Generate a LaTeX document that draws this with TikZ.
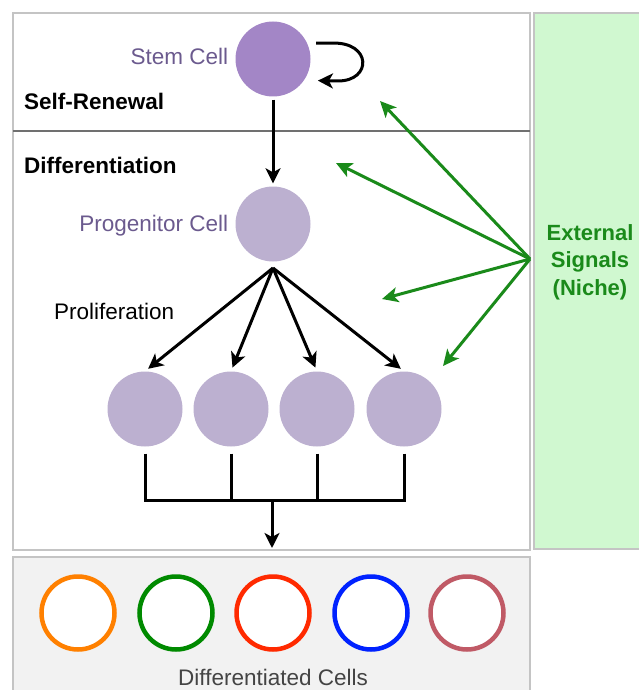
\documentclass[tikz,border=0pt]{standalone}
\usepackage{fontspec}
\setmainfont{Liberation Sans}
\usetikzlibrary{positioning,arrows.meta}
\definecolor{stemcol}{HTML}{A386C6}
\definecolor{progcol}{HTML}{BCB0D0}
\definecolor{labcol}{HTML}{6B5A8E}
\definecolor{nichecol}{HTML}{1A8A1A}
\definecolor{nichefill}{HTML}{D0F8D0}
\definecolor{boxline}{HTML}{C4C4C4}
\definecolor{sepline}{HTML}{707070}
\definecolor{difffill}{HTML}{F2F2F2}
\definecolor{difftext}{HTML}{444444}
\definecolor{ringorange}{HTML}{FF8000}
\definecolor{ringgreen}{HTML}{008A00}
\definecolor{ringred}{HTML}{FF2A00}
\definecolor{ringblue}{HTML}{0022FF}
\definecolor{ringrose}{HTML}{C05A66}

\begin{document}
\begin{tikzpicture}[x=1pt,y=-1pt,
  font=\fontsize{22.5}{27}\selectfont,
  cell/.style={circle,minimum size=75pt,inner sep=0pt},
  ring/.style={circle,minimum size=73pt,inner sep=0pt,line width=4.5pt,fill=white},
  lab/.style={inner sep=0pt},
  arr/.style={-{Stealth[length=15pt,width=15pt,inset=4pt]},line width=3pt},
  sig/.style={-{Stealth[length=16pt,width=15pt,inset=4pt]},nichecol,line width=3pt}]

\useasboundingbox (0,0) rectangle (638,690);

% Boxes
\draw[boxline,line width=2pt] (13,13) rectangle (530,550);
\draw[boxline,line width=2pt,fill=nichefill] (534,13) rectangle (645,549);
\draw[boxline,line width=2pt,fill=difffill] (13,557) rectangle (530,700);
\draw[sepline,line width=1.5pt] (13,131) -- (530,131);

% Stem cell and progenitor
\node[cell,fill=stemcol] (stem) at (273,59) {};
\node[cell,fill=progcol] (prog) at (273,224) {};
\node[lab,labcol,left=7pt of stem,yshift=3pt] (stemlab) {Stem Cell};
\node[lab,labcol,left=7pt of prog,yshift=-2pt] (proglab) {Progenitor Cell};

\node[lab,anchor=west] (renew) at (24,101) {\bfseries Self-Renewal};
\node[lab,anchor=west] (differ) at (24,165) {\bfseries Differentiation};
\node[lab,anchor=west] (prolif) at (54,311) {Proliferation};

% Self-renewal loop
\draw[arr] ([xshift=9pt]stem.25) -- ++(16,0) .. controls (372,42) and (372,81) .. (338,81) -- ([xshift=14pt]stem.-35);
\draw[arr,shorten <=3pt,shorten >=3pt] (stem) -- (prog);

% Daughter cells
\coordinate (fan) at (273,268);
\foreach \x [count=\i] in {145,231,317,404}
  \node[cell,fill=progcol] (d\i) at (\x,409) {};
\foreach \i in {1,...,4}
  \draw[arr,shorten >=4pt] (fan) -- (d\i.north);

% Bracket down to differentiated cells
\coordinate (join) at (272,500);
\coordinate (out) at (272,548);
\foreach \i in {1,...,4}
  \draw[line width=3pt] ([yshift=-7pt]d\i.south) |- (join);
\draw[arr] (join) -- (out);

% External signals
\coordinate (niche) at (530,259);
\node[lab,nichecol,align=center,font=\fontsize{22}{27.5}\selectfont\bfseries] (nichelab) at (590,262) {External\\Signals\\(Niche)};
\foreach \x/\y [count=\i] in {380/101,336/163,382/299,443/366}
  \coordinate (t\i) at (\x,\y);
\foreach \i in {1,...,4}
  \draw[sig] (niche) -- (t\i);

% Differentiated cells
\foreach \x/\c [count=\i] in {78/ringorange,176/ringgreen,273/ringred,371/ringblue,467/ringrose}
  \node[ring,draw=\c] (c\i) at (\x,613) {};
\node[lab,difftext] (difflab) at (273,677) {Differentiated Cells};

\end{tikzpicture}
\end{document}
